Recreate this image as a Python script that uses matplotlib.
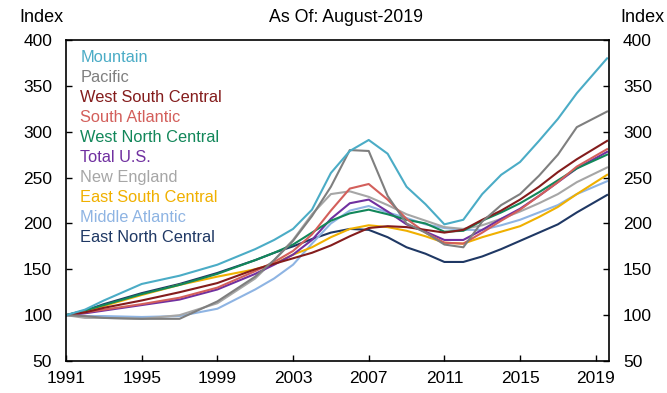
import matplotlib
matplotlib.use("Agg")
import matplotlib.pyplot as plt

plt.rcParams["font.family"] = ["Liberation Sans", "DejaVu Sans"]

# House price index by census division, 1991 = 100
YEARS = [1991.0, 1992, 1993, 1995, 1997, 1999, 2001, 2002, 2003, 2004, 2005,
         2006, 2007, 2008, 2009, 2010, 2011, 2012, 2013, 2014, 2015, 2016,
         2017, 2018, 2019.6]

MOUNTAIN = [100, 106, 116, 134, 143, 155, 172, 182, 194, 215, 255, 279, 291,
            276, 240, 221, 199, 204, 232, 253, 267, 290, 314, 342, 380]
PACIFIC = [100, 99, 97, 96, 96, 115, 142, 160, 181, 208, 240, 280, 279,
           230, 200, 190, 177, 174, 202, 220, 232, 252, 275, 305, 322]
WEST_SOUTH_CENTRAL = [100, 103, 108, 116, 125, 135, 150, 156, 162, 168, 176,
                      186, 195, 197, 196, 193, 190, 193, 204, 214, 226, 240,
                      256, 270, 290]
SOUTH_ATLANTIC = [100, 103, 106, 112, 119, 130, 148, 158, 170, 188, 214, 238,
                  243, 226, 205, 190, 179, 178, 190, 203, 215, 230, 245, 262,
                  281]
WEST_NORTH_CENTRAL = [100, 105, 111, 123, 133, 145, 160, 168, 177, 190, 203,
                      211, 215, 210, 204, 200, 191, 192, 203, 212, 222, 234,
                      247, 260, 275]
TOTAL_US = [100, 102, 105, 111, 117, 128, 145, 155, 166, 182, 205, 222, 226,
            213, 199, 191, 182, 182, 193, 205, 216, 230, 245, 260, 278]
NEW_ENGLAND = [100, 97, 97, 96, 100, 113, 140, 160, 182, 210, 232, 235, 229,
               220, 210, 203, 196, 194, 198, 205, 213, 222, 232, 245, 261]
EAST_SOUTH_CENTRAL = [100, 104, 110, 122, 133, 142, 150, 156, 166, 174, 185,
                      194, 198, 196, 192, 186, 179, 178, 185, 191, 197, 207,
                      218, 232, 253]
MIDDLE_ATLANTIC = [100, 99, 99, 98, 99, 107, 128, 140, 155, 178, 200, 214,
                   219, 212, 206, 199, 195, 193, 193, 198, 204, 212, 220, 232,
                   246]
EAST_NORTH_CENTRAL = [100, 105, 112, 124, 134, 146, 160, 168, 175, 183, 190,
                      194, 193, 185, 174, 167, 158, 158, 164, 172, 181, 190,
                      199, 212, 231]

SERIES = [
    ("Mountain", MOUNTAIN, "#4bacc6"),
    ("Pacific", PACIFIC, "#7f7f7f"),
    ("West South Central", WEST_SOUTH_CENTRAL, "#841c1c"),
    ("South Atlantic", SOUTH_ATLANTIC, "#d35f5b"),
    ("West North Central", WEST_NORTH_CENTRAL, "#12875a"),
    ("Total U.S.", TOTAL_US, "#7030a0"),
    ("New England", NEW_ENGLAND, "#a6a6a6"),
    ("East South Central", EAST_SOUTH_CENTRAL, "#f0b000"),
    ("Middle Atlantic", MIDDLE_ATLANTIC, "#8eb4e3"),
    ("East North Central", EAST_NORTH_CENTRAL, "#1f3864"),
]

XTICKS = [1991, 1995, 1999, 2003, 2007, 2011, 2015, 2019]
YTICKS = [50, 100, 150, 200, 250, 300, 350, 400]

fig = plt.figure(figsize=(6.67, 3.93), dpi=100)
ax = fig.add_axes([0.099, 0.0814, 0.814, 0.8168])

# draw bottom of the legend stack first so Mountain sits on top
for name, vals, col in reversed(SERIES):
    ax.plot(YEARS, vals, color=col, lw=1.5)

ax.set_xlim(1991, 2019.7)
ax.set_ylim(50, 400)
ax.set_xticks(XTICKS)
ax.set_yticks(YTICKS)
ax.tick_params(axis="both", direction="in", length=4, width=1, labelsize=12.5)
ax.tick_params(axis="y", right=True, labelright=True, pad=10)
ax.tick_params(axis="x", pad=7)
for sp in ax.spines.values():
    sp.set_linewidth(1.2)
    sp.set_color("black")

for i, (name, vals, col) in enumerate(SERIES):
    ax.text(0.026, 0.944 - i * 0.0623, name, color=col, fontsize=11.8,
            transform=ax.transAxes, ha="left", va="center")

fig.text(0.518, 0.955, "As Of: August-2019", ha="center", va="center",
         fontsize=12.8)
fig.text(0.062, 0.955, "Index", ha="center", va="center", fontsize=13)
fig.text(0.963, 0.955, "Index", ha="center", va="center", fontsize=13)

fig.savefig("out.png", dpi=100)
